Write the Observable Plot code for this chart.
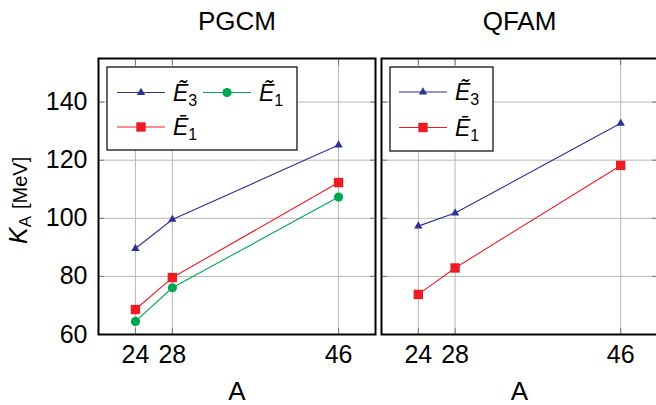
<!DOCTYPE html>
<html>
<head>
<meta charset="utf-8">
<script src="https://cdn.jsdelivr.net/npm/d3@7"></script>
<script src="https://cdn.jsdelivr.net/npm/@observablehq/plot@0.6"></script>
<style>
  html, body { margin: 0; padding: 0; background: #fff; }
  #wrap { position: relative; width: 656px; height: 405px; overflow: hidden; }
  #wrap > div, #wrap > svg { position: absolute; top: 0; }
</style>
</head>
<body>
<div id="wrap"></div>
<script>
// ---- data ----
const A = [24, 28, 46];
const xTicks = [24, 28, 46];
const yTicks = [60, 80, 100, 120, 140];
const panelTitles = ["PGCM", "QFAM"];
const xLabel = "A";

const pgcmE3tilde = [89.6, 99.6, 125.2];
const pgcmE1bar   = [68.6, 79.6, 112.3];
const pgcmE1tilde = [64.5, 76.1, 107.3];

const qfamE3tilde = [97.3, 101.8, 132.7];
const qfamE1bar   = [73.8, 82.9, 118.2];

// series styles
const styles = {
  E3t: {color: "#2e3192", symbol: "triangle", r: 3.1, base: "Ẽ", sub: "3"},
  E1b: {color: "#ed1c24", symbol: "square",   r: 5.3, base: "Ē", sub: "1"},
  E1t: {color: "#00a651", symbol: "circle",   r: 4.6, base: "Ẽ", sub: "1"}
};

const FONT = "Liberation Sans, Arial, sans-serif";
const wrap = document.getElementById("wrap");

function rows(vals) { return A.map((a, i) => ({A: a, K: vals[i]})); }

function seriesMarks(series) {
  const marks = [];
  for (const [key, vals] of series) {
    const s = styles[key];
    marks.push(Plot.line(rows(vals), {x: "A", y: "K", stroke: s.color, strokeWidth: 1.1}));
    marks.push(Plot.dot(rows(vals), {x: "A", y: "K", fill: s.color, stroke: "none", symbol: s.symbol, r: s.r}));
  }
  return marks;
}

function panel({title, series, width, marginLeft, marginRight, showY}) {
  const marks = [
    Plot.gridX(xTicks, {stroke: "#b8b8b8", strokeOpacity: 1, strokeWidth: 1}),
    Plot.gridY(yTicks, {stroke: "#b8b8b8", strokeOpacity: 1, strokeWidth: 1}),
    Plot.axisX(xTicks, {anchor: "bottom", tickSize: -6, tickFormat: () => "", stroke: "#777", label: null}),
    Plot.axisX(xTicks, {anchor: "top", tickSize: -6, tickFormat: () => "", stroke: "#777", label: null}),
    Plot.axisY(yTicks, {anchor: "left", tickSize: -6, tickFormat: () => "", stroke: "#777", label: null}),
    Plot.axisY(yTicks, {anchor: "right", tickSize: -6, tickFormat: () => "", stroke: "#777", label: null}),
    ...seriesMarks(series),
    Plot.frame({stroke: "#000", strokeWidth: 2}),
    Plot.axisX(xTicks, {anchor: "bottom", tickSize: 0, tickPadding: 11, label: null, fontSize: 25}),
    Plot.text([title], {frameAnchor: "top", lineAnchor: "middle", dy: -37, fontSize: 26, fill: "#000"}),
    Plot.text([xLabel], {frameAnchor: "bottom", lineAnchor: "middle", dy: 57, fontSize: 26, fill: "#000"})
  ];
  if (showY) marks.push(Plot.axisY(yTicks, {anchor: "left", tickSize: 0, tickPadding: 11, label: null, fontSize: 25}));
  return Plot.plot({
    width, height: 405,
    marginLeft, marginRight, marginTop: 58, marginBottom: 71,
    x: {domain: [20, 50]},
    y: {domain: [60, 155]},
    style: {fontFamily: FONT, fontSize: "25px", color: "#000", background: "transparent", overflow: "visible"},
    marks
  });
}

function addLegend(svg, box, entries) {
  const g = d3.select(svg).append("g").attr("text-anchor", "start");
  g.append("rect").attr("x", box.x).attr("y", box.y).attr("width", box.w).attr("height", box.h)
    .attr("fill", "#fff").attr("stroke", "#000").attr("stroke-width", 1.2);
  for (const e of entries) {
    const s = styles[e.key];
    g.append("line").attr("x1", e.x).attr("x2", e.x + 48).attr("y1", e.y).attr("y2", e.y)
      .attr("stroke", s.color).attr("stroke-width", 1.1);
    g.append("path").attr("transform", `translate(${e.x + 24},${e.y})`)
      .attr("d", d3.symbol(s.symbol === "triangle" ? d3.symbolTriangle : s.symbol === "square" ? d3.symbolSquare : d3.symbolCircle, s.r * s.r * Math.PI)())
      .attr("fill", s.color);
    const t = g.append("text").attr("x", e.x + 56).attr("y", e.y + 8).attr("text-anchor", "start")
      .attr("font-family", FONT).style("font-size", "23px").attr("fill", "#000");
    t.append("tspan").attr("font-style", "italic").text(s.base);
    t.append("tspan").style("font-size", "16px").attr("dy", 5).text(s.sub);
  }
}

// left panel
const left = panel({
  title: panelTitles[0],
  series: [["E3t", pgcmE3tilde], ["E1b", pgcmE1bar], ["E1t", pgcmE1tilde]],
  width: 378, marginLeft: 98, marginRight: 3, showY: true
});
left.style.left = "0px";
wrap.appendChild(left);
const leftSvg = left.tagName.toLowerCase() === "svg" ? left : left.querySelector("svg");
addLegend(leftSvg, {x: 107, y: 67, w: 190, h: 83}, [
  {key: "E3t", x: 117, y: 92.5},
  {key: "E1t", x: 203, y: 92.5},
  {key: "E1b", x: 117, y: 127}
]);
// y label
{
  const t = d3.select(leftSvg).append("text")
    .attr("transform", "translate(27,244) rotate(-90)")
    .attr("text-anchor", "start")
    .attr("font-family", FONT).attr("fill", "#000").style("font-size", "20px");
  t.append("tspan").attr("font-style", "italic").style("font-size", "25px").text("K");
  t.append("tspan").style("font-size", "17px").attr("dy", 4).text("A");
  t.append("tspan").style("font-size", "20px").attr("dy", -4).attr("dx", 7).text("[MeV]");
}

// right panel
const right = panel({
  title: panelTitles[1],
  series: [["E3t", qfamE3tilde], ["E1b", qfamE1bar]],
  width: 282, marginLeft: 3, marginRight: 3, showY: false
});
right.style.left = "378px";
wrap.appendChild(right);
const rightSvg = right.tagName.toLowerCase() === "svg" ? right : right.querySelector("svg");
addLegend(rightSvg, {x: 12, y: 67, w: 103, h: 84}, [
  {key: "E3t", x: 21, y: 92},
  {key: "E1b", x: 21, y: 127.5}
]);
</script>
</body>
</html>
